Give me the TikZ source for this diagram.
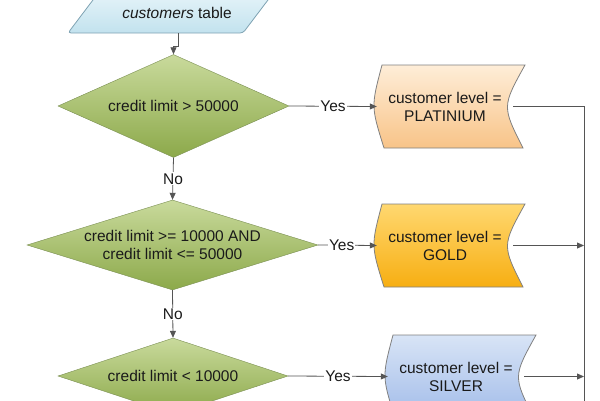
\documentclass[tikz,border=0pt]{standalone}
\usepackage{fontspec}
\setmainfont{Liberation Sans}
\usetikzlibrary{shapes.geometric,arrows.meta}
\definecolor{linec}{HTML}{555555}
\definecolor{txt}{HTML}{1A1A1A}
\definecolor{dtop}{HTML}{C9DA9C}
\definecolor{dbot}{HTML}{8CA94A}
\definecolor{dline}{HTML}{7A8F52}
\definecolor{ptop}{HTML}{E6F4F9}
\definecolor{pbot}{HTML}{C2E2EE}
\definecolor{pline}{HTML}{7FA3B3}
\definecolor{btopA}{HTML}{FEEDD8}
\definecolor{bbotA}{HTML}{F8C488}
\definecolor{btopB}{HTML}{FFD870}
\definecolor{bbotB}{HTML}{F7AE12}
\definecolor{btopC}{HTML}{D8E4F6}
\definecolor{bbotC}{HTML}{A2BCE9}
\definecolor{bline}{HTML}{808080}
\tikzset{
  every node/.style={font=\fontsize{15.5}{18}\selectfont, text=txt},
  decision/.style={diamond, draw=dline, top color=dtop, bottom color=dbot, inner sep=0pt, align=center},
  boxtext/.style={rectangle, minimum width=136pt, minimum height=83pt, inner sep=0pt, align=center},
  conn/.style={draw=linec, line width=0.8pt},
  arr/.style={conn, -{Triangle[length=7pt,width=6pt]}},
  lbl/.style={fill=white, inner sep=1pt},
}
\newcommand\wbox[5]{%
  \path[#4, draw=bline, line width=0.8pt] (#2+5,#3) -- (#2+148,#3) .. controls (#2+125,#3+41.5) .. (#2+146,#3+83) -- (#2+7,#3+83) .. controls (#2-6,#3+41.5) .. cycle;
  \node[boxtext] (#1) at (#2+68,#3+41.5) {#5};
}
\begin{document}
\begin{tikzpicture}[x=1pt, y=-1pt]
\useasboundingbox (0,0) rectangle (600,400);
% input parallelogram
\path[draw=pline, line width=0.8pt, top color=ptop, bottom color=pbot, rounded corners=3pt]
  (99,-8) -- (274,-8) -- (243,33) -- (68,33) -- cycle;
\node (p) at (177,13) {\textit{customers} table};
\coordinate (pout) at (178,33);
% decisions
\node[decision, aspect=2.2427, minimum width=231pt, minimum height=103pt] (d1) at (173.5,106) {credit limit > 50000};
\node[decision, aspect=3.2333, minimum width=291pt, minimum height=90pt] (d2) at (172.5,245) {credit limit >= 10000 AND\\credit limit <= 50000};
\node[decision, aspect=3.0263, minimum width=230pt, minimum height=76pt] (d3) at (173,376) {credit limit < 10000};
% boxes
\wbox{b1}{377}{65}{top color=btopA, bottom color=bbotA}{customer level =\\PLATINIUM}
\wbox{b2}{377}{204}{top color=btopB, bottom color=bbotB}{customer level =\\GOLD}
\wbox{b3}{388}{335}{top color=btopC, bottom color=bbotC}{customer level =\\SILVER}
% connectors
\coordinate (vb) at (584,420);
\draw[arr] (pout) -- (178,46) -| (d1.north);
\draw[arr] (d1.south) -- node[lbl] {No} (d2.north);
\draw[arr] (d2.south) -- node[lbl] {No} (d3.north);
\draw[arr] (d1.east) -- node[lbl] {Yes} (b1.west);
\draw[arr] (d2.east) -- node[lbl, pos=0.4] {Yes} (b2.west);
\draw[arr] (d3.east) -- node[lbl] {Yes} (b3.west);
\draw[conn] (b1.east) -| (vb);
\draw[arr] (b2.east) -- (b2.east -| vb);
\draw[arr] (b3.east) -- (b3.east -| vb);
\end{tikzpicture}
\end{document}
